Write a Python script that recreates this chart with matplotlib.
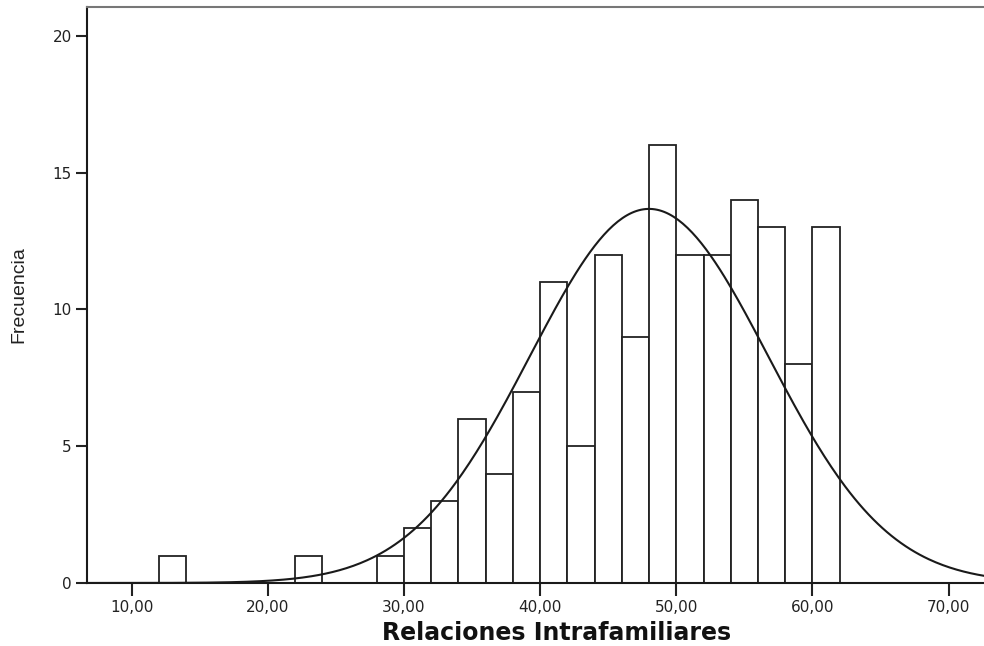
import numpy as np
import matplotlib.pyplot as plt

# histogram bins (left edge, width 2) and frequencies
bin_left = [12, 22, 28, 30, 32, 34, 36, 38, 40, 42, 44, 46, 48, 50, 52, 54, 56, 58, 60]
counts = [1, 1, 1, 2, 3, 6, 4, 7, 11, 5, 12, 9, 16, 12, 12, 14, 13, 8, 13]
bin_width = 2

# normal curve parameters
curve_mean = 48.0
curve_sd = 8.75

x_ticks = [10, 20, 30, 40, 50, 60, 70]
x_tick_labels = ["10,00", "20,00", "30,00", "40,00", "50,00", "60,00", "70,00"]
y_ticks = [0, 5, 10, 15, 20]

fig = plt.figure(figsize=(9.84, 6.46), dpi=100)
ax = fig.add_axes([87 / 984, 63 / 646, 1 - 87 / 984, 576 / 646])

ax.bar(bin_left, counts, width=bin_width, align="edge",
       facecolor="white", edgecolor="#222222", linewidth=1.3, zorder=2)

n = sum(counts)
xs = np.linspace(6, 74, 400)
ys = n * bin_width / (curve_sd * np.sqrt(2 * np.pi)) * np.exp(-0.5 * ((xs - curve_mean) / curve_sd) ** 2)
ax.plot(xs, ys, color="#1a1a1a", linewidth=1.5, zorder=3)

ax.set_xlim(6.72, 72.6)
ax.set_ylim(0, 21.06)

ax.set_xticks(x_ticks)
ax.set_xticklabels(x_tick_labels)
ax.set_yticks(y_ticks)
ax.tick_params(axis="both", labelsize=11, colors="#222222", length=8, width=1.5, pad=3)
ax.tick_params(axis="x", length=9)

for side in ["left", "bottom"]:
    ax.spines[side].set_color("#1a1a1a")
    ax.spines[side].set_linewidth(1.5)
ax.spines["top"].set_color("#777777")
ax.spines["top"].set_linewidth(1.5)
ax.spines["right"].set_visible(False)

ax.set_xlabel("Relaciones Intrafamiliares", fontsize=17, fontweight="bold",
              color="#111111", va="center")
ax.xaxis.set_label_coords(0.524, -0.087)
ax.set_ylabel("Frecuencia", fontsize=14, color="#222222", labelpad=18,
              family=["Liberation Sans", "DejaVu Sans"])

fig.savefig("out.png", dpi=100)
